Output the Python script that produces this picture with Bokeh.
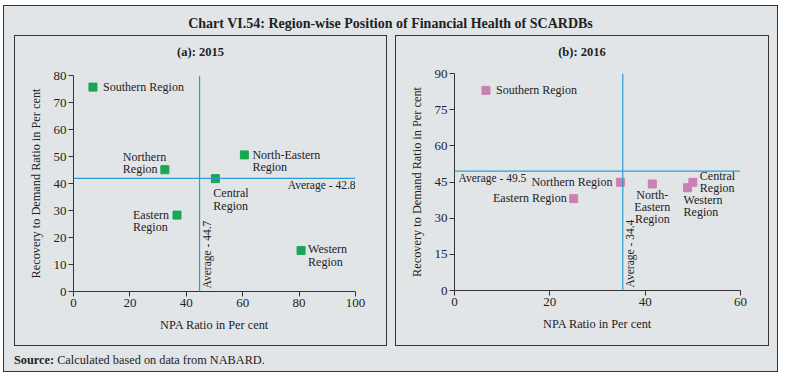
import math
from bokeh.plotting import figure
from bokeh.layouts import column, row
from bokeh.models import Div, Span, ColumnDataSource, FixedTicker, Range1d
from bokeh.embed import file_html
from bokeh.resources import INLINE
from bokeh.core.properties import value

# ---------------- data ----------------
regions = ["Southern Region", "Northern Region", "North-Eastern Region",
           "Central Region", "Eastern Region", "Western Region"]

npa_2015 = [6.9, 32.4, 60.6, 50.3, 36.7, 80.7]
rec_2015 = [75.7, 45.1, 50.6, 41.8, 28.3, 15.2]
labels_2015 = ["Southern Region", "Northern\nRegion", "North-Eastern\nRegion",
               "Central\nRegion", "Eastern\nRegion", "Western\nRegion"]
avg_npa_2015 = 44.7
avg_rec_2015 = 41.9
avg_npa_2015_text = "Average - 44.7"
avg_rec_2015_text = "Average - 42.8"

npa_2016 = [6.6, 34.8, 41.5, 50.0, 25.0, 48.9]
rec_2016 = [83.0, 44.9, 44.2, 44.9, 38.1, 42.6]
labels_2016 = ["Southern Region", "Northern Region", "North-\nEastern\nRegion",
               "Central\nRegion", "Eastern Region", "Western\nRegion"]
avg_npa_2016 = 35.3
avg_rec_2016 = 49.5
avg_npa_2016_text = "Average - 34.4"
avg_rec_2016_text = "Average - 49.5"

x_ticks_2015 = [0, 20, 40, 60, 80, 100]
y_ticks_2015 = [0, 10, 20, 30, 40, 50, 60, 70, 80]
x_ticks_2016 = [0, 20, 40, 60]
y_ticks_2016 = [0, 15, 30, 45, 60, 75, 90]

chart_title = "Chart VI.54: Region-wise Position of Financial Health of SCARDBs"
panel_titles = ["(a): 2015", "(b): 2016"]
x_label = "NPA Ratio in Per cent"
y_label = "Recovery to Demand Ratio in Per cent"

# ---------------- styles ----------------
BG = "#e2e5e8"
FONT = "Liberation Serif"
LINE_BLUE = "#2f9bd6"
AXIS_C = "#333333"

# label placement (screen px offsets) and alignments
off_2015 = dict(dx=[10, -42, 8, -2, -44, 7], dy=[0, -7, 6, 21, 6, 5],
                align=["left"] * 6)
off_2016 = dict(dx=[10, -8, 0, 7, -7, -4], dy=[0, 0, 23, 0, -1, 18],
                align=["left", "right", "center", "left", "right", "left"])


def make_panel(title, xs, ys, labels, offs, color, xr, yr, xt, yt,
               avg_x, avg_y, avg_x_text, avg_y_text, width, borders, avg_y_dx):
    p = figure(width=width, height=283, x_range=Range1d(*xr), y_range=Range1d(*yr),
               output_backend="svg", toolbar_location=None, margin=0,
               min_border_left=borders[0], min_border_right=borders[1],
               min_border_top=borders[2], min_border_bottom=borders[3])
    p.background_fill_color = BG
    p.border_fill_color = BG
    p.outline_line_color = None
    p.grid.visible = False
    for ax in (p.xaxis[0], p.yaxis[0]):
        ax.axis_line_color = AXIS_C
        ax.major_tick_line_color = AXIS_C
        ax.minor_tick_line_color = None
        ax.major_tick_in = 0
        ax.major_tick_out = 5
        ax.major_label_text_font = FONT
        ax.major_label_text_font_size = "13px"
        ax.major_label_text_color = "#222222"
        ax.axis_label_text_font = FONT
        ax.axis_label_text_font_size = "12.3px"
        ax.axis_label_text_font_style = "normal"
        ax.axis_label_text_color = "#222222"
        ax.major_label_standoff = 2
        ax.axis_label_standoff = 8
    p.xaxis[0].ticker = FixedTicker(ticks=xt)
    p.yaxis[0].ticker = FixedTicker(ticks=yt)
    p.xaxis[0].axis_label = x_label
    p.yaxis[0].axis_label = y_label

    p.add_layout(Span(location=avg_x, dimension="height", line_color=LINE_BLUE, line_width=1.2))
    p.add_layout(Span(location=avg_y, dimension="width", line_color=LINE_BLUE, line_width=1.2))

    src = ColumnDataSource(dict(x=xs, y=ys, label=labels, dx=offs["dx"], dy=offs["dy"],
                                align=offs["align"]))
    p.scatter("x", "y", source=src, marker="square", size=8, color=color)
    p.text("x", "y", text="label", source=src, x_offset="dx", y_offset="dy",
           text_align="align", text_baseline="middle", text_font=value(FONT),
           text_font_size="12px", text_color="#222222", text_line_height=0.88)

    # average labels
    p.text(x=[avg_x], y=[yr[0]], text=[avg_x_text], angle=math.pi / 2,
           x_offset=7, y_offset=-3, text_align="left", text_baseline="middle",
           text_font=value(FONT), text_font_size="11.5px", text_color="#222222")
    ax_pos = xr[1] if avg_y_dx is None else xr[0]
    p.text(x=[ax_pos], y=[avg_y], text=[avg_y_text],
           x_offset=0 if avg_y_dx is None else avg_y_dx, y_offset=7,
           text_align="right" if avg_y_dx is None else "left",
           text_baseline="middle",
           text_font=value(FONT), text_font_size="11.5px", text_color="#222222")

    tdiv = Div(text=title, width=width, height=26, margin=0,
               styles={"font-family": FONT, "font-weight": "bold", "font-size": "12.5px",
                       "text-align": "center", "color": "#222222",
                       "background-color": BG, "padding-top": "8px", "box-sizing": "border-box"})
    panel = column(tdiv, p, width=width, height=309, spacing=0, margin=0,
                   styles={"outline": "1px solid #333", "background-color": BG})
    return panel


panel_a = make_panel(panel_titles[0], npa_2015, rec_2015, labels_2015, off_2015, "#1aa653",
                     (0, 100), (0, 80), x_ticks_2015, y_ticks_2015,
                     avg_npa_2015, avg_rec_2015, avg_npa_2015_text, avg_rec_2015_text,
                     371, (58, 31, 13, 54), None)
panel_b = make_panel(panel_titles[1], npa_2016, rec_2016, labels_2016, off_2016, "#cc80b2",
                     (0, 60), (0, 90), x_ticks_2016, y_ticks_2016,
                     avg_npa_2016, avg_rec_2016, avg_npa_2016_text, avg_rec_2016_text,
                     372, (58, 28, 11, 55), 4)

title_div = Div(text=chart_title, width=773, height=30, margin=0,
                styles={"font-family": FONT, "font-weight": "bold", "font-size": "14px",
                        "text-align": "center", "color": "#222222",
                        "padding-top": "8px", "box-sizing": "border-box"})
source_div = Div(text="<b>Source:</b> Calculated based on data from NABARD.", width=700, height=26,
                 margin=(0, 0, 0, 10),
                 styles={"font-family": FONT, "font-size": "12.3px", "color": "#222222",
                         "padding-top": "7px", "box-sizing": "border-box"})

panels = row(panel_a, panel_b, spacing=10, margin=(0, 0, 0, 11))
root = column(title_div, panels, source_div, width=773, height=365, spacing=0,
              margin=(6, 0, 0, 4),
              styles={"outline": "1px solid #333", "background-color": BG})

open("out.html", "w").write(file_html(root, INLINE))
